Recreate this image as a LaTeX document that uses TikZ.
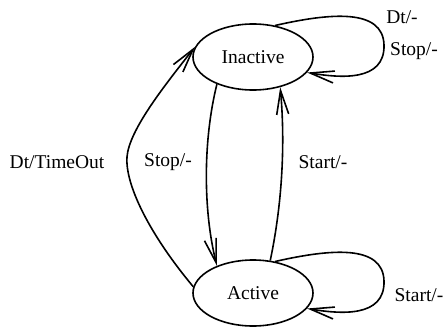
\documentclass[tikz,border=0pt]{standalone}
\usepackage{fontspec}
\setmainfont{Liberation Serif}
\usetikzlibrary{shapes.geometric,arrows.meta}
\begin{document}
\begin{tikzpicture}[x=1pt,y=-1pt,
  state/.style={ellipse,draw,line width=1.6pt,minimum width=120pt,minimum height=66pt,inner sep=0pt},
  trans/.style={line width=1.6pt,-{Straight Barb[length=24pt,width=12pt]}},
  lbl/.style={inner sep=0pt},
  every node/.style={font=\fontsize{19.5}{22}\selectfont}]
\useasboundingbox (0,0) rectangle (446,329);
\node[state] (I) at (253,57) {Inactive};
\node[state] (A) at (253,293) {Active};

% self loops
\draw[trans] (I.55) .. controls (330,13) and (383,8) .. (384,45)
  .. controls (385,82) and (340,78) .. (I.-16);
\draw[trans] (A.55) .. controls (330,249) and (383,244) .. (384,281)
  .. controls (385,318) and (340,314) .. (A.-16);

% transitions between the states
\draw[trans] (I.-143) .. controls (203,140) and (203,210) .. (A.143);
\draw[trans] (A.62) .. controls (283,200) and (285,140) .. (I.-48);
\draw[trans] (A.174) .. controls (150,235) and (125,185) .. (127,157)
  .. controls (129,130) and (165,85) .. (I.170);

% labels
\node[lbl] (l1) at (402,17) {Dt/-};
\node[lbl] (l2) at (414,51) {Stop/-};
\node[lbl] (l3) at (419,295) {Start/-};
\node[lbl] (l4) at (57,162) {Dt/TimeOut};
\node[lbl] (l5) at (168,162) {Stop/-};
\node[lbl] (l6) at (323,162) {Start/-};
\end{tikzpicture}
\end{document}
